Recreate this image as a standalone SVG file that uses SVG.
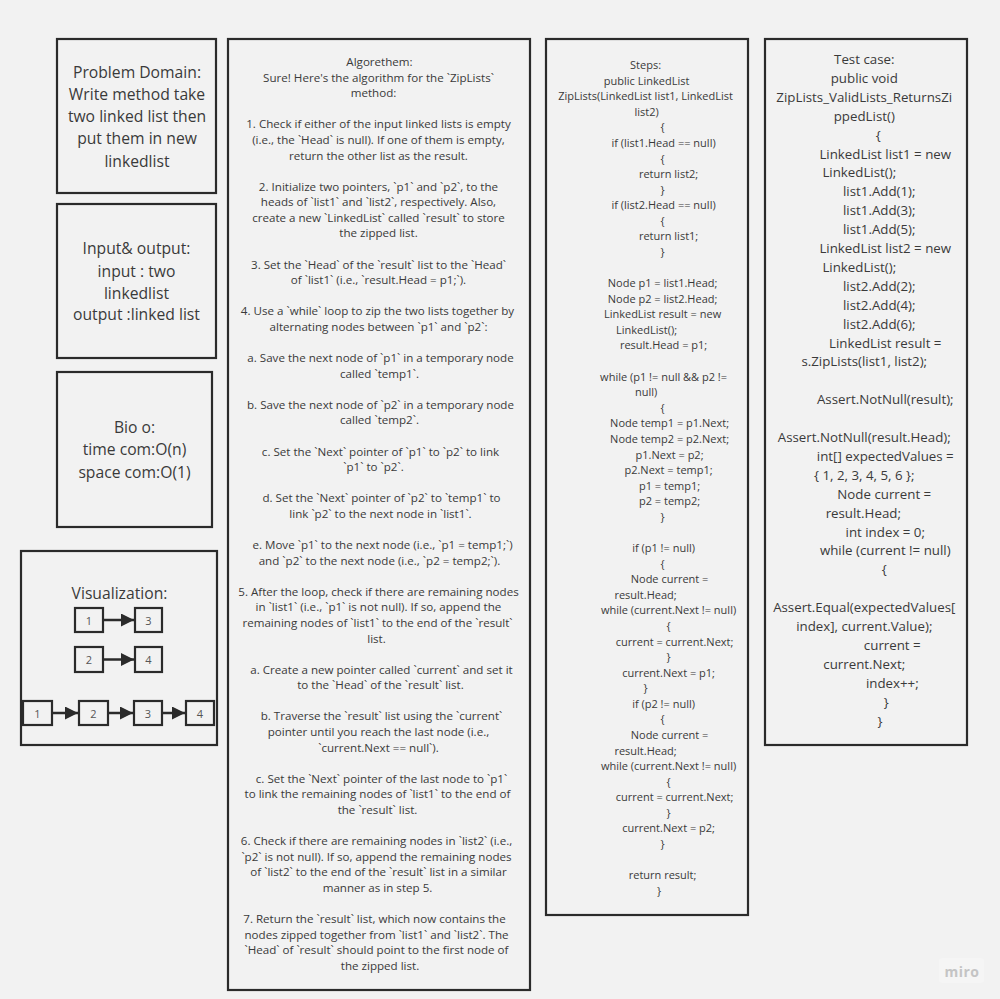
<svg xmlns="http://www.w3.org/2000/svg" width="1000" height="999" viewBox="0 0 1000 999">
<style>
.box{fill:#f2f2f2;stroke:#2b2b2b;stroke-width:2.2}
.nb{fill:#f2f2f2;stroke:#2b2b2b;stroke-width:2.2}
text{font-family:"Open Sans","Liberation Sans",sans-serif;fill:#3a3a3a;text-anchor:middle}
.big{font-size:15.7px}
.sm{font-size:11px}
.alg{font-size:11.6px}
.md{font-size:13.3px}
.nt{font-size:11px;fill:#555}
.conn{stroke:#2b2b2b;stroke-width:2.5;fill:none}
.miro{font-size:14px;font-weight:bold;fill:#c4c4c4;letter-spacing:0.5px}
</style>
<defs>
<marker id="ah" markerUnits="userSpaceOnUse" markerWidth="13" markerHeight="13" refX="13" refY="6.5" orient="auto">
<path d="M0,0 L13,6.5 L0,13 z" fill="#2b2b2b"/>
</marker>
</defs>
<rect x="0" y="0" width="1000" height="999" fill="#f2f2f2"/>

<g id="problem-domain">
<rect class="box" x="57" y="39" width="159" height="154"/>
<text class="big"><tspan x="137" y="77.5">Problem Domain:</tspan><tspan x="137" y="99.5">Write method take</tspan><tspan x="137" y="122">two linked list then</tspan><tspan x="137" y="144">put them in new</tspan><tspan x="137" y="166.5">linkedlist</tspan></text>
</g>

<g id="input-output">
<rect class="box" x="57" y="204" width="159" height="154"/>
<text class="big"><tspan x="136.5" y="253.5">Input&amp; output:</tspan><tspan x="136.5" y="276.5">input : two</tspan><tspan x="136.5" y="298.5">linkedlist</tspan><tspan x="136.5" y="320">output :linked list</tspan></text>
</g>

<g id="big-o">
<rect class="box" x="57" y="372" width="155" height="155"/>
<text class="big"><tspan x="134.5" y="432.5">Bio o:</tspan><tspan x="134.5" y="455">time com:O(n)</tspan><tspan x="134.5" y="477.5">space com:O(1)</tspan></text>
</g>

<g id="visualization">
<rect class="box" x="21" y="551" width="196" height="194"/>
<text class="big" x="119.5" y="598.5">Visualization:</text>
<g id="v1a"><rect class="nb" x="75" y="608" width="28" height="24"/><text class="nt" x="89" y="625">1</text></g>
<g id="v1b"><rect class="nb" x="135" y="608" width="27" height="24"/><text class="nt" x="148.5" y="625">3</text></g>
<g id="v2a"><rect class="nb" x="75" y="647" width="28" height="25"/><text class="nt" x="89" y="664">2</text></g>
<g id="v2b"><rect class="nb" x="135" y="647" width="27" height="25"/><text class="nt" x="148.5" y="664">4</text></g>
<g id="v3a"><rect class="nb" x="23" y="701" width="29" height="24"/><text class="nt" x="37.5" y="717.5">1</text></g>
<g id="v3b"><rect class="nb" x="79" y="701" width="29" height="24"/><text class="nt" x="93.5" y="717.5">2</text></g>
<g id="v3c"><rect class="nb" x="134" y="701" width="28" height="24"/><text class="nt" x="148" y="717.5">3</text></g>
<g id="v3d"><rect class="nb" x="186" y="701" width="28" height="24"/><text class="nt" x="200" y="717.5">4</text></g>
</g>

<g id="connectors">
<line class="conn" x1="103" y1="620" x2="134" y2="620" marker-end="url(#ah)"/>
<line class="conn" x1="103" y1="659.5" x2="134" y2="659.5" marker-end="url(#ah)"/>
<line class="conn" x1="52" y1="713" x2="78" y2="713" marker-end="url(#ah)"/>
<line class="conn" x1="108" y1="713" x2="133" y2="713" marker-end="url(#ah)"/>
<line class="conn" x1="162" y1="713" x2="185" y2="713" marker-end="url(#ah)"/>
</g>

<g id="algorithm">
<rect class="box" x="228" y="39" width="302" height="951"/>
<text class="alg">
<tspan x="381" y="66">Algorethem:</tspan>
<tspan x="380" y="81.6">Sure! Here's the algorithm for the `ZipLists`</tspan>
<tspan x="375" y="97.2">method:</tspan>
<tspan x="380" y="128.3">1. Check if either of the input linked lists is empty</tspan>
<tspan x="380" y="143.9">(i.e., the `Head` is null). If one of them is empty,</tspan>
<tspan x="380" y="159.5">return the other list as the result.</tspan>
<tspan x="380" y="190.6">2. Initialize two pointers, `p1` and `p2`, to the</tspan>
<tspan x="380" y="206.2">heads of `list1` and `list2`, respectively. Also,</tspan>
<tspan x="380" y="221.8">create a new `LinkedList` called `result` to store</tspan>
<tspan x="380" y="237.4">the zipped list.</tspan>
<tspan x="380" y="268.5">3. Set the `Head` of the `result` list to the `Head`</tspan>
<tspan x="380" y="284.1">of `list1` (i.e., `result.Head = p1;`).</tspan>
<tspan x="379" y="315.3">4. Use a `while` loop to zip the two lists together by</tspan>
<tspan x="380" y="330.9">alternating nodes between `p1` and `p2`:</tspan>
<tspan x="382" y="362">a. Save the next node of `p1` in a temporary node</tspan>
<tspan x="381" y="377.6">called `temp1`.</tspan>
<tspan x="382" y="408.8">b. Save the next node of `p2` in a temporary node</tspan>
<tspan x="381" y="424.3">called `temp2`.</tspan>
<tspan x="382" y="455.5">c. Set the `Next` pointer of `p1` to `p2` to link</tspan>
<tspan x="375" y="471.1">`p1` to `p2`.</tspan>
<tspan x="383" y="502.2">d. Set the `Next` pointer of `p2` to `temp1` to</tspan>
<tspan x="382" y="517.8">link `p2` to the next node in `list1`.</tspan>
<tspan x="384" y="549">e. Move `p1` to the next node (i.e., `p1 = temp1;`)</tspan>
<tspan x="381" y="564.6">and `p2` to the next node (i.e., `p2 = temp2;`).</tspan>
<tspan x="380" y="595.7">5. After the loop, check if there are remaining nodes</tspan>
<tspan x="380" y="611.3">in `list1` (i.e., `p1` is not null). If so, append the</tspan>
<tspan x="379" y="626.9">remaining nodes of `list1` to the end of the `result`</tspan>
<tspan x="378" y="642.5">list.</tspan>
<tspan x="383" y="673.6">a. Create a new pointer called `current` and set it</tspan>
<tspan x="382" y="689.2">to the `Head` of the `result` list.</tspan>
<tspan x="383" y="720.4">b. Traverse the `result` list using the `current`</tspan>
<tspan x="380" y="735.9">pointer until you reach the last node (i.e.,</tspan>
<tspan x="380" y="751.5">`current.Next == null`).</tspan>
<tspan x="383" y="782.7">c. Set the `Next` pointer of the last node to `p1`</tspan>
<tspan x="379" y="798.3">to link the remaining nodes of `list1` to the end of</tspan>
<tspan x="379" y="813.8">the `result` list.</tspan>
<tspan x="378" y="845">6. Check if there are remaining nodes in `list2` (i.e.,</tspan>
<tspan x="378" y="860.6">`p2` is not null). If so, append the remaining nodes</tspan>
<tspan x="380" y="876.2">of `list2` to the end of the `result` list in a similar</tspan>
<tspan x="379" y="891.7">manner as in step 5.</tspan>
<tspan x="376" y="922.9">7. Return the `result` list, which now contains the</tspan>
<tspan x="378" y="938.5">nodes zipped together from `list1` and `list2`. The</tspan>
<tspan x="378" y="954.1">`Head` of `result` should point to the first node of</tspan>
<tspan x="380" y="969.6">the zipped list.</tspan>
</text>
</g>

<g id="steps">
<rect class="box" x="546" y="39" width="202" height="876"/>
<text class="sm">
<tspan x="647" y="69">Steps:</tspan>
<tspan x="648" y="84.6">public LinkedList</tspan>
<tspan x="647" y="100.2">ZipLists(LinkedList list1, LinkedList</tspan>
<tspan x="648" y="115.7">list2)</tspan>
<tspan x="664" y="131.3">{</tspan>
<tspan x="665" y="146.9">if (list1.Head == null)</tspan>
<tspan x="664" y="162.5">{</tspan>
<tspan x="670" y="178.1">return list2;</tspan>
<tspan x="664" y="193.6">}</tspan>
<tspan x="665" y="209.2">if (list2.Head == null)</tspan>
<tspan x="664" y="224.8">{</tspan>
<tspan x="670" y="240.4">return list1;</tspan>
<tspan x="664" y="256">}</tspan>
<tspan x="664" y="287.1">Node p1 = list1.Head;</tspan>
<tspan x="664" y="302.7">Node p2 = list2.Head;</tspan>
<tspan x="664" y="318.3">LinkedList result = new</tspan>
<tspan x="648" y="333.9">LinkedList();</tspan>
<tspan x="665" y="349.4">result.Head = p1;</tspan>
<tspan x="665" y="380.6">while (p1 != null &amp;&amp; p2 !=</tspan>
<tspan x="647.5" y="396.2">null)</tspan>
<tspan x="664" y="411.8">{</tspan>
<tspan x="671" y="427.3">Node temp1 = p1.Next;</tspan>
<tspan x="671" y="442.9">Node temp2 = p2.Next;</tspan>
<tspan x="671" y="458.5">p1.Next = p2;</tspan>
<tspan x="670" y="474.1">p2.Next = temp1;</tspan>
<tspan x="671" y="489.7">p1 = temp1;</tspan>
<tspan x="671" y="505.2">p2 = temp2;</tspan>
<tspan x="664" y="520.8">}</tspan>
<tspan x="665" y="552">if (p1 != null)</tspan>
<tspan x="664" y="567.6">{</tspan>
<tspan x="671" y="583.1">Node current =</tspan>
<tspan x="647" y="598.7">result.Head;</tspan>
<tspan x="670" y="614.3">while (current.Next != null)</tspan>
<tspan x="670" y="629.9">{</tspan>
<tspan x="676" y="645.5">current = current.Next;</tspan>
<tspan x="670" y="661">}</tspan>
<tspan x="670" y="676.6">current.Next = p1;</tspan>
<tspan x="647" y="692.2">}</tspan>
<tspan x="665" y="707.8">if (p2 != null)</tspan>
<tspan x="664" y="723.4">{</tspan>
<tspan x="671" y="738.9">Node current =</tspan>
<tspan x="647" y="754.5">result.Head;</tspan>
<tspan x="670" y="770.1">while (current.Next != null)</tspan>
<tspan x="670" y="785.7">{</tspan>
<tspan x="676" y="801.3">current = current.Next;</tspan>
<tspan x="670" y="816.8">}</tspan>
<tspan x="670" y="832.4">current.Next = p2;</tspan>
<tspan x="664" y="848">}</tspan>
<tspan x="664" y="879.2">return result;</tspan>
<tspan x="659" y="894.7">}</tspan>
</text>
</g>

<g id="test-case">
<rect class="box" x="765" y="39" width="202" height="706"/>
<text class="md">
<tspan x="866" y="64">Test case:</tspan>
<tspan x="866" y="82.9">public void</tspan>
<tspan x="866" y="101.8">ZipLists_ValidLists_ReturnsZi</tspan>
<tspan x="866" y="120.7">ppedList()</tspan>
<tspan x="880" y="139.6">{</tspan>
<tspan x="887" y="158.5">LinkedList list1 = new</tspan>
<tspan x="861" y="177.4">LinkedList();</tspan>
<tspan x="881" y="196.3">list1.Add(1);</tspan>
<tspan x="881" y="215.2">list1.Add(3);</tspan>
<tspan x="881" y="234.1">list1.Add(5);</tspan>
<tspan x="887" y="253">LinkedList list2 = new</tspan>
<tspan x="861" y="271.9">LinkedList();</tspan>
<tspan x="881" y="290.8">list2.Add(2);</tspan>
<tspan x="881" y="309.7">list2.Add(4);</tspan>
<tspan x="881" y="328.6">list2.Add(6);</tspan>
<tspan x="887" y="347.5">LinkedList result =</tspan>
<tspan x="866" y="366.4">s.ZipLists(list1, list2);</tspan>
<tspan x="887" y="404.2">Assert.NotNull(result);</tspan>
<tspan x="866" y="442">Assert.NotNull(result.Head);</tspan>
<tspan x="887" y="460.9">int[] expectedValues =</tspan>
<tspan x="866" y="479.8">{ 1, 2, 3, 4, 5, 6 };</tspan>
<tspan x="886" y="498.7">Node current =</tspan>
<tspan x="865" y="517.6">result.Head;</tspan>
<tspan x="887" y="536.5">int index = 0;</tspan>
<tspan x="887" y="555.4">while (current != null)</tspan>
<tspan x="886" y="574.3">{</tspan>
<tspan x="866" y="612.1">Assert.Equal(expectedValues[</tspan>
<tspan x="866" y="631">index], current.Value);</tspan>
<tspan x="894" y="649.9">current =</tspan>
<tspan x="866" y="668.8">current.Next;</tspan>
<tspan x="894" y="687.7">index++;</tspan>
<tspan x="888" y="706.6">}</tspan>
<tspan x="880" y="725.5">}</tspan>
</text>
</g>

<g id="watermark">
<rect x="939" y="958" width="45" height="25" rx="3" fill="#f5f5f5"/>
<text class="miro" x="962" y="977">miro</text>
</g>
</svg>
